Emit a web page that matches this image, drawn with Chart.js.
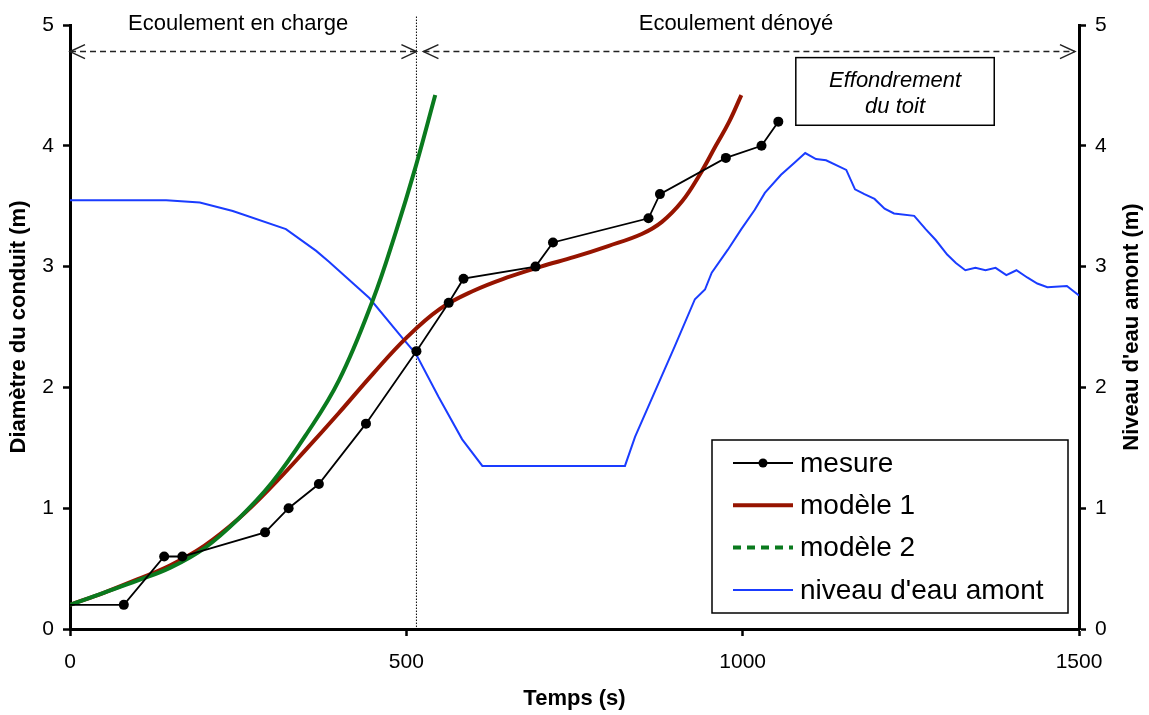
<!DOCTYPE html>
<html lang="fr">
<head>
<meta charset="utf-8">
<title>Diamètre du conduit et niveau d'eau amont</title>
<script src="https://cdn.jsdelivr.net/npm/chart.js@4.4.1/dist/chart.umd.min.js"></script>
<style>
  html, body { margin: 0; padding: 0; background: #fff; }
  #wrap { width: 1149px; height: 715px; }
</style>
</head>
<body>
<div id="wrap"><canvas id="chart" width="1149" height="715"></canvas></div>
<script>
// Mesures du diamètre du conduit (temps en s, diamètre en m)
const mesureTemps    = [0, 80, 140, 167, 290, 325, 370, 440, 515, 563, 585, 692, 718, 860, 877, 975, 1028, 1053];
const mesureDiametre = [0.2, 0.2, 0.6, 0.6, 0.8, 1.0, 1.2, 1.7, 2.3, 2.7, 2.9, 3.0, 3.2, 3.4, 3.6, 3.9, 4.0, 4.2];

// Modèle 1 : charge puis dénoyé
const modele1Temps    = [0, 50, 100, 150, 200, 250, 300, 350, 400, 450, 500, 550, 600, 650, 700, 750, 800, 850, 880, 910, 935, 960, 980, 998];
const modele1Diametre = [0.2, 0.30, 0.41, 0.53, 0.69, 0.91, 1.18, 1.48, 1.79, 2.11, 2.41, 2.65, 2.80, 2.91, 3.0, 3.08, 3.17, 3.27, 3.37, 3.54, 3.75, 4.0, 4.2, 4.42];

// Modèle 2 : écoulement en charge seulement
const modele2Temps    = [0, 50, 100, 150, 200, 250, 300, 350, 400, 450, 484, 514, 543];
const modele2Diametre = [0.2, 0.30, 0.40, 0.51, 0.67, 0.91, 1.21, 1.60, 2.06, 2.72, 3.28, 3.83, 4.42];

// Niveau d'eau amont (axe de droite, m)
const niveauTemps = [0, 143, 193, 242, 321, 366, 385, 445, 494, 514, 548, 583, 613, 825, 840, 884, 899, 929, 944, 954,
  978, 998, 1018, 1033, 1057, 1077, 1093, 1109, 1124, 1154, 1167, 1181, 1196, 1211, 1225, 1255, 1272, 1287, 1304,
  1317, 1331, 1346, 1361, 1376, 1392, 1407, 1423, 1438, 1453, 1482, 1500];
const niveauEau = [3.55, 3.55, 3.53, 3.46, 3.31, 3.13, 3.04, 2.74, 2.41, 2.28, 1.92, 1.57, 1.35, 1.35, 1.59, 2.15, 2.34, 2.73, 2.81, 2.95,
  3.14, 3.31, 3.47, 3.61, 3.76, 3.86, 3.94, 3.89, 3.88, 3.80, 3.64, 3.60, 3.56, 3.48, 3.44, 3.42, 3.31, 3.22, 3.10,
  3.03, 2.97, 2.99, 2.97, 2.99, 2.93, 2.97, 2.91, 2.86, 2.83, 2.84, 2.76];

// Axes
const tempsTicks = [0, 500, 1000, 1500];
const diametreTicks = [0, 1, 2, 3, 4, 5];

// Limite entre les deux régimes d'écoulement (s)
const limiteTemps = 515;

const FONT = '"Liberation Sans", Arial, Helvetica, sans-serif';
const ROUGE = '#961400';
const VERT = '#0A7A1E';
const BLEU = '#1A3CFF';

const toXY = (xs, ys) => xs.map((x, i) => ({ x, y: ys[i] }));

function drawArrow(ctx, x1, x2, y) {
    ctx.save();
    ctx.strokeStyle = '#222';
    ctx.lineWidth = 1.5;
    ctx.setLineDash([6, 4]);
    ctx.beginPath();
    ctx.moveTo(x1, y);
    ctx.lineTo(x2, y);
    ctx.stroke();
    ctx.setLineDash([]);
    ctx.beginPath();
    ctx.moveTo(x1 + 15, y - 7);
    ctx.lineTo(x1, y);
    ctx.lineTo(x1 + 15, y + 7);
    ctx.moveTo(x2 - 15, y - 7);
    ctx.lineTo(x2, y);
    ctx.lineTo(x2 - 15, y + 7);
    ctx.stroke();
    ctx.restore();
}

const legendItems = [
    { label: 'mesure', color: '#000', width: 1.8, dash: [], point: true },
    { label: 'modèle 1', color: ROUGE, width: 4, dash: [] },
    { label: 'modèle 2', color: VERT, width: 4, dash: [8, 6] },
    { label: "niveau d'eau amont", color: BLEU, width: 2, dash: [] }
];

// Annotations : limite, flèches, textes, légende et titre de l'axe de droite
const annotations = {
    id: 'annotations',
    beforeDatasetsDraw(chart) {
        const { ctx, chartArea, scales: { x, y } } = chart;
        const xb = x.getPixelForValue(limiteTemps);
        ctx.save();
        ctx.strokeStyle = '#000';
        ctx.lineWidth = 1;
        ctx.setLineDash([1.5, 1.5]);
        ctx.beginPath();
        ctx.moveTo(xb, y.getPixelForValue(5.07));
        ctx.lineTo(xb, chartArea.bottom + 2);
        ctx.stroke();
        ctx.restore();

        const ya = y.getPixelForValue(4.78);
        drawArrow(ctx, x.getPixelForValue(0), xb, ya);
        drawArrow(ctx, xb + 7, x.getPixelForValue(1494), ya);

        ctx.save();
        ctx.fillStyle = '#000';
        ctx.font = '22px ' + FONT;
        ctx.textAlign = 'center';
        ctx.textBaseline = 'middle';
        ctx.fillText('Ecoulement en charge', x.getPixelForValue(250), y.getPixelForValue(5.01));
        ctx.fillText('Ecoulement dénoyé', x.getPixelForValue(990), y.getPixelForValue(5.01));
        ctx.restore();
    },
    afterDatasetsDraw(chart) {
        const { ctx, chartArea, scales: { x, y } } = chart;
        ctx.save();

        // encadré "Effondrement du toit"
        const bx1 = x.getPixelForValue(1079), bx2 = x.getPixelForValue(1374);
        const by1 = y.getPixelForValue(4.73), by2 = y.getPixelForValue(4.17);
        ctx.fillStyle = '#fff';
        ctx.fillRect(bx1, by1, bx2 - bx1, by2 - by1);
        ctx.strokeStyle = '#000';
        ctx.lineWidth = 1.5;
        ctx.strokeRect(bx1, by1, bx2 - bx1, by2 - by1);
        ctx.fillStyle = '#000';
        ctx.font = 'italic 22px ' + FONT;
        ctx.textAlign = 'center';
        ctx.textBaseline = 'middle';
        const bxc = (bx1 + bx2) / 2;
        ctx.fillText('Effondrement', bxc, by1 + 23);
        ctx.fillText('du toit', bxc, by1 + 49);

        // légende
        const lx = chartArea.right - 367, ly = chartArea.bottom - 189;
        ctx.fillStyle = '#fff';
        ctx.fillRect(lx, ly, 356, 173);
        ctx.lineWidth = 1.5;
        ctx.strokeRect(lx, ly, 356, 173);
        ctx.font = '28px ' + FONT;
        ctx.textAlign = 'left';
        legendItems.forEach((item, i) => {
            const iy = ly + 23 + i * 42.3;
            ctx.strokeStyle = item.color;
            ctx.lineWidth = item.width;
            ctx.setLineDash(item.dash);
            ctx.beginPath();
            ctx.moveTo(lx + 21, iy);
            ctx.lineTo(lx + 81, iy);
            ctx.stroke();
            ctx.setLineDash([]);
            if (item.point) {
                ctx.fillStyle = item.color;
                ctx.beginPath();
                ctx.arc(lx + 51, iy, 4.5, 0, Math.PI * 2);
                ctx.fill();
            }
            ctx.fillStyle = '#000';
            ctx.fillText(item.label, lx + 88, iy + 1);
        });

        // titre de l'axe de droite, lu de bas en haut
        ctx.font = 'bold 22px ' + FONT;
        ctx.textAlign = 'center';
        ctx.translate(1132, (chartArea.top + chartArea.bottom) / 2);
        ctx.rotate(-Math.PI / 2);
        ctx.fillText("Niveau d'eau amont (m)", 0, 0);
        ctx.restore();
    }
};

const axisGrid = {
    drawOnChartArea: false,
    drawTicks: true,
    tickLength: 7,
    tickWidth: 2.5,
    tickColor: '#000'
};
const axisBorder = { display: true, color: '#000', width: 3 };
const tickFont = { family: FONT, size: 21 };

new Chart(document.getElementById('chart'), {
    type: 'scatter',
    data: {
        datasets: [
            {
                label: 'mesure',
                data: toXY(mesureTemps, mesureDiametre),
                showLine: true,
                borderColor: '#000',
                backgroundColor: '#000',
                borderWidth: 1.8,
                pointRadius: mesureTemps.map((t, i) => (i === 0 ? 0 : 5)),
                pointBorderWidth: 0,
                yAxisID: 'y',
                order: 0
            },
            {
                label: 'modèle 2',
                data: toXY(modele2Temps, modele2Diametre),
                showLine: true,
                borderColor: VERT,
                borderWidth: 4,
                pointRadius: 0,
                tension: 0.4,
                yAxisID: 'y',
                order: 1
            },
            {
                label: 'modèle 1',
                data: toXY(modele1Temps, modele1Diametre),
                showLine: true,
                borderColor: ROUGE,
                borderWidth: 4,
                pointRadius: 0,
                tension: 0.4,
                yAxisID: 'y',
                order: 2
            },
            {
                label: "niveau d'eau amont",
                data: toXY(niveauTemps, niveauEau),
                showLine: true,
                borderColor: BLEU,
                borderWidth: 2,
                pointRadius: 0,
                tension: 0,
                yAxisID: 'y2',
                order: 3
            }
        ]
    },
    options: {
        responsive: false,
        animation: false,
        layout: { padding: { top: 25, left: 0, right: 0, bottom: 0 } },
        plugins: {
            legend: { display: false },
            tooltip: { enabled: false }
        },
        scales: {
            x: {
                type: 'linear',
                min: tempsTicks[0],
                max: tempsTicks[tempsTicks.length - 1],
                afterBuildTicks: scale => { scale.ticks = tempsTicks.map(v => ({ value: v })); },
                afterFit: scale => { scale.height = 86; },
                grid: axisGrid,
                border: axisBorder,
                ticks: { font: tickFont, color: '#000', padding: 14, maxRotation: 0, callback: v => String(v) },
                title: {
                    display: true,
                    text: 'Temps (s)',
                    color: '#000',
                    font: { family: FONT, size: 22, weight: 'bold' },
                    padding: { top: 0, bottom: 3 }
                }
            },
            y: {
                position: 'left',
                min: 0,
                max: 5,
                afterBuildTicks: scale => { scale.ticks = diametreTicks.map(v => ({ value: v })); },
                afterFit: scale => { scale.width = 70; },
                grid: axisGrid,
                border: axisBorder,
                ticks: { font: tickFont, color: '#000', padding: 9 },
                title: {
                    display: true,
                    text: 'Diamètre du conduit (m)',
                    color: '#000',
                    font: { family: FONT, size: 22, weight: 'bold' },
                    padding: { top: 6, bottom: 0 }
                }
            },
            y2: {
                position: 'right',
                min: 0,
                max: 5,
                afterBuildTicks: scale => { scale.ticks = diametreTicks.map(v => ({ value: v })); },
                afterFit: scale => { scale.width = 70; },
                grid: axisGrid,
                border: axisBorder,
                ticks: { font: tickFont, color: '#000', padding: 9 }
            }
        }
    },
    plugins: [annotations]
});
</script>
</body>
</html>
